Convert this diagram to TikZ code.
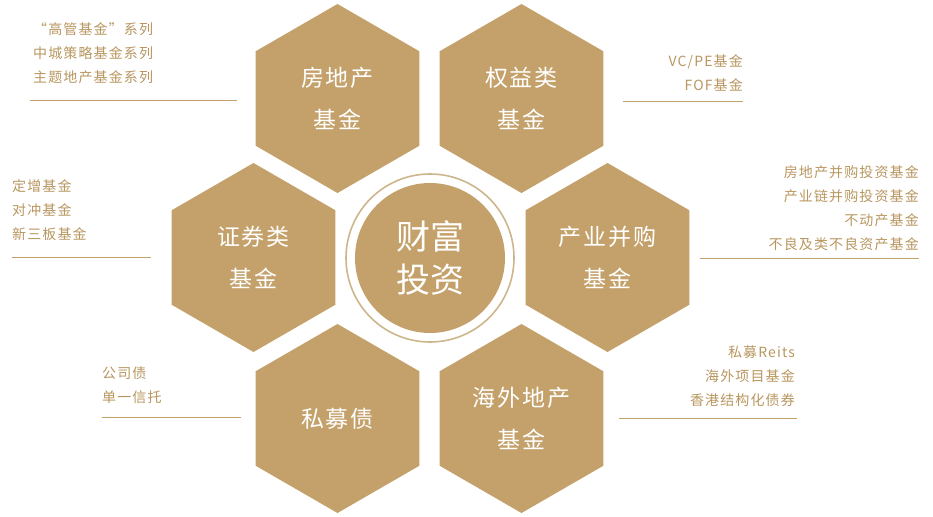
\documentclass[tikz,border=0pt]{standalone}
\usepackage{fontspec}
\setmainfont{Noto Sans CJK SC}
\newfontfamily\cjklabel[LetterSpace=8]{Noto Sans CJK SC}
\usepackage{xcolor}
\usetikzlibrary{shapes.geometric, positioning}

\definecolor{gold}{HTML}{C4A16A}
\definecolor{goldtext}{HTML}{B8965F}
\definecolor{goldring}{HTML}{CDB58C}

\tikzset{
  hexcell/.style={regular polygon, regular polygon sides=6, shape border rotate=30,
    minimum size=189pt, inner sep=0pt, outer sep=0pt, fill=gold, text=white,
    align=center, font=\cjklabel\fontsize{23}{42}\selectfont},
  sidelabel/.style={inner sep=0pt, text=goldtext, font=\cjklabel\fontsize{14}{24}\selectfont},
  rule/.style={draw=gold, line width=0.9pt}
}

\begin{document}
\begin{tikzpicture}[x=1pt, y=-1pt]

    \useasboundingbox (0,0) rectangle (933,516);

    % honeycomb
    \node[hexcell] (realestate) at (337.5,98.5) {房地产\\基金};
    \node[hexcell] (equity) at (521.5,98.5) {权益类\\基金};
    \node[hexcell] (securities) at (253.5,257.5) {证券类\\基金};
    \node[hexcell] (merger) at (607.5,257.5) {产业并购\\基金};
    \node[hexcell] (privdebt) at (337.5,418.5) {私募债};
    \node[hexcell] (overseas) at (521.5,418.5) {海外地产\\基金};

    % centre
    \node[circle, minimum size=150pt, inner sep=0pt, fill=gold, text=white, align=center,
      font=\fontsize{34}{43}\selectfont] (core) at (430,258) {财富\\投资};
    \draw[goldring, line width=1.6pt] (core.center) circle (84);

    % side notes
    \node[sidelabel, align=left, anchor=west] (realestateNote) at (33,53)
      {“高管基金”系列\\中城策略基金系列\\主题地产基金系列};
    \draw[rule] (30,100) -- (237,100);

    \node[sidelabel, align=right, anchor=east] (equityNote) at (743,72.5)
      {VC/PE基金\\FOF基金};
    \draw[rule] (623,101) -- (743,101);

    \node[sidelabel, align=left, anchor=west] (securitiesNote) at (12,210)
      {定增基金\\对冲基金\\新三板基金};
    \draw[rule] (12,257) -- (151,257);

    \node[sidelabel, align=right, anchor=east] (mergerNote) at (919,208)
      {房地产并购投资基金\\产业链并购投资基金\\不动产基金\\不良及类不良资产基金};
    \draw[rule] (700,258) -- (919,258);

    \node[sidelabel, align=left, anchor=west] (privdebtNote) at (102,385)
      {公司债\\单一信托};
    \draw[rule] (102,417) -- (241,417);

    \node[sidelabel, align=right, anchor=east] (overseasNote) at (795,376)
      {私募Reits\\海外项目基金\\香港结构化债券};
    \draw[rule] (619,418) -- (797,418);

\end{tikzpicture}
\end{document}
